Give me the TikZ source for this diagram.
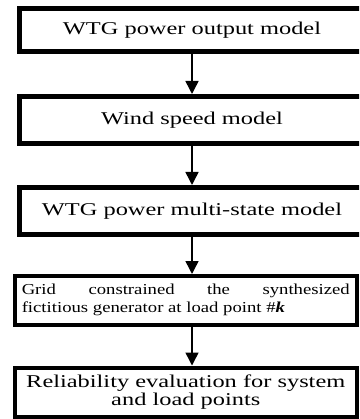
\documentclass[tikz,border=0pt]{standalone}
\usepackage{fontspec}
\setmainfont{Liberation Serif}[FakeStretch=1.355]
\newfontfamily\smallboxfont{Liberation Serif}[FakeStretch=1.23]
\usetikzlibrary{arrows.meta}

\begin{document}
\begin{tikzpicture}[x=1pt,y=-1pt,
    bigbox/.style={draw,line width=5pt,minimum width=346pt,inner sep=0pt,
        align=center,font=\fontsize{18}{18.5}\selectfont},
    lowbox/.style={draw,line width=4pt,minimum width=342.5pt,inner sep=0pt,
        font=\fontsize{18}{18.5}\selectfont},
    flowarrow/.style={line width=1.5pt,-{Triangle[width=13pt,length=13pt]}}]
\useasboundingbox (0,0) rectangle (359,419);
\clip (0,0) rectangle (359,419);

\node[bigbox,minimum height=43.5pt] (power) at (192,30.25) {WTG power output model};
\node[bigbox,minimum height=47.5pt] (wind) at (192,120.25) {Wind speed model};
\node[bigbox,minimum height=46.5pt] (multi) at (192,210.75) {WTG power multi-state model};
\node[lowbox,minimum height=48.5pt,text width=328pt,align=justify,
    font=\smallboxfont\fontsize{15.2}{18}\selectfont] (synth) at (185.75,300.25)
    {Grid constrained the synthesized\linebreak fictitious generator at load point \#\textbf{\textit{k}}};
\node[lowbox,minimum height=49.5pt,align=center] (rel) at (185.75,392.25)
    {Reliability evaluation for system\\and load points};

\draw[flowarrow] (power.south) -- (wind.north);
\draw[flowarrow] (wind.south) -- (multi.north);
\draw[flowarrow] (multi.south) -- (multi.south |- synth.north);
\draw[flowarrow] (multi.south |- synth.south) -- (multi.south |- rel.north);
\end{tikzpicture}
\end{document}
